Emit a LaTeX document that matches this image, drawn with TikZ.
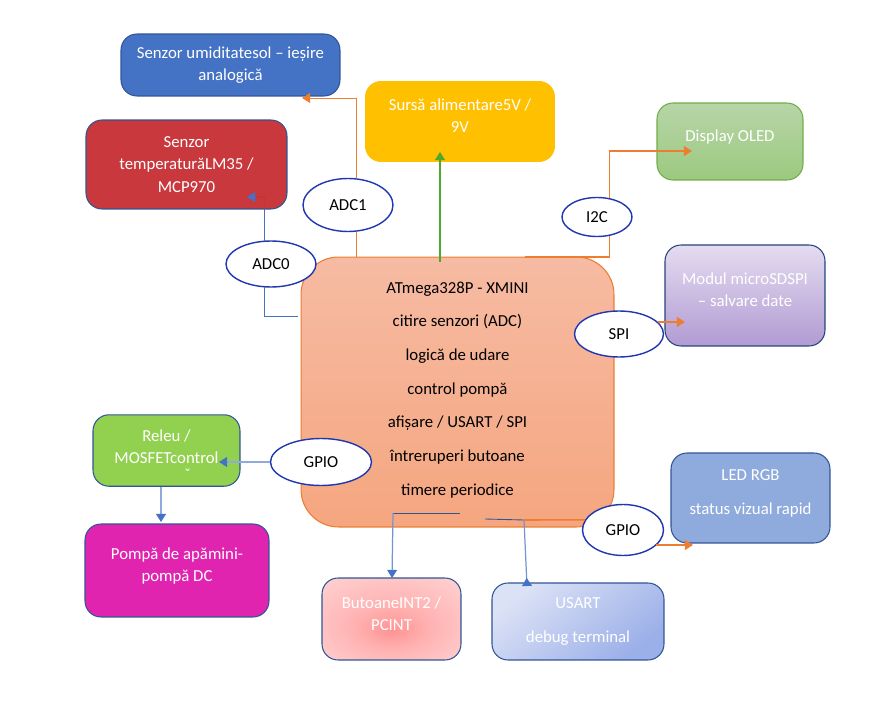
\documentclass[tikz,border=0pt]{standalone}
\usepackage{fontspec}
\setmainfont{Carlito}
\usetikzlibrary{arrows.meta, shapes.geometric}

\definecolor{darkblue}{HTML}{2F5597}
\definecolor{wireblue}{HTML}{4472C4}
\definecolor{paleblue}{HTML}{8FAADC}
\definecolor{wireorange}{HTML}{ED7D31}
\definecolor{wiregreen}{HTML}{4EA72E}
\definecolor{wirered}{HTML}{C0392B}

\pgfdeclareradialshading{btnglow}{\pgfpoint{0bp}{-7bp}}{rgb(0bp)=(1,0.58,0.58); rgb(14bp)=(1,0.70,0.70); rgb(32bp)=(1,0.80,0.80); rgb(50bp)=(1,0.84,0.84)}

\tikzset{
    box/.style={rectangle, rounded corners=3.2mm, draw=darkblue, line width=0.6pt,
                text=white, align=center, font=\fontsize{9.55}{12.6}\selectfont},
    lifted/.style={text depth=6.5pt},
    bus/.style={ellipse, draw=wireblue!60!blue!80!black, line width=0.8pt, fill=white,
                inner sep=0pt, font=\fontsize{9.55}{12.6}\selectfont},
    wire/.style={line width=0.5pt, draw=wireblue},
    thickwire/.style={line width=0.9pt, draw=wireorange},
    tip/.style={-{Triangle[length=4.6pt,width=5.6pt]}},
    bluetip/.style={-{Triangle[length=4.6pt,width=5.6pt,color=wireblue]}}
}

\begin{document}
\begin{tikzpicture}[x=0.02cm, y=-0.02cm]

    \useasboundingbox (0, 0) rectangle (883, 713);

    % Draw the central block
    \node[box, text depth=4pt, draw=wireorange, top color={rgb,255:red,246;green,187;blue,163},
          bottom color={rgb,255:red,245;green,166;blue,127},
          minimum width=6.26cm, minimum height=5.4cm, rounded corners=7.5mm, text=black,
          font=\fontsize{9.55}{19.2}\selectfont]
          at (457.5, 392)   (mcu)   {ATmega328P - XMINI\\citire senzori (ADC)\\logică de udare\\control pompă\\afișare / USART / SPI\\întreruperi butoane\\timere periodice};

    % Draw the modules
    \node[box, fill=wireblue, minimum width=4.38cm, minimum height=1.24cm]
          at (230.5, 65)    (soil)    {Senzor umiditatesol – ieșire\\analogică};
    \node[box, fill={rgb,255:red,200;green,56;blue,61}, minimum width=4.02cm, minimum height=1.78cm]
          at (186.5, 164.5) (temp)    {Senzor\\temperaturăLM35 /\\MCP970};
    \node[box, lifted, draw=none, fill={rgb,255:red,255;green,192;blue,0}, minimum width=3.8cm, minimum height=1.62cm]
          at (460, 121.5)   (supply)  {Sursă alimentare5V /\\9V};
    \node[box, lifted, draw={rgb,255:red,112;green,173;blue,71}, top color={rgb,255:red,183;green,213;blue,168},
          bottom color={rgb,255:red,156;green,201;blue,127}, minimum width=2.92cm, minimum height=1.54cm]
          at (730, 141.5)   (oled)    {Display OLED};
    \node[box, lifted, draw=darkblue!80!black, top color={rgb,255:red,228;green,220;blue,240},
          bottom color={rgb,255:red,177;green,155;blue,211}, minimum width=3.2cm, minimum height=2.02cm]
          at (745, 295.5)   (microsd) {Modul microSDSPI\\– salvare date};
    \node[box, text height=34pt, fill={rgb,255:red,146;green,208;blue,80}, minimum width=2.94cm, minimum height=1.38cm]
          at (166.5, 450.5) (relay)   {Releu /\\MOSFETcontrol\\[-3pt]\hspace*{24pt}ˇ};
    \node[box, lifted, fill={rgb,255:red,224;green,36;blue,176}, minimum width=3.68cm, minimum height=1.86cm]
          at (177, 570.5)   (pump)    {Pompă de apămini-\\pompă DC};
    \node[box, lifted, shading=btnglow, minimum width=2.78cm, minimum height=1.64cm]
          at (391.5, 619)   (buttons) {ButoaneINT2 /\\PCINT};
    \node[box, left color={rgb,255:red,220;green,226;blue,246}, right color={rgb,255:red,155;green,175;blue,232},
          shading angle=40, minimum width=3.44cm, minimum height=1.54cm,
          font=\fontsize{9.55}{19.2}\selectfont]
          at (578, 621.5)   (usart)   {USART\\debug terminal};
    \node[box, lifted, fill=paleblue, minimum width=3.18cm, minimum height=1.8cm,
          font=\fontsize{9.55}{19.2}\selectfont]
          at (750.5, 498)   (led)     {LED RGB\\status vizual rapid};

    % Draw the buses
    \node[bus, minimum width=1.8cm, minimum height=1.06cm]  at (348, 205)   (adc1)  {ADC1};
    \node[bus, minimum width=1.8cm, minimum height=0.92cm]  at (271, 264)   (adc0)  {ADC0};
    \node[bus, minimum width=1.4cm, minimum height=0.78cm]  at (597, 217)   (i2c)   {I2C};
    \node[bus, minimum width=1.78cm, minimum height=0.92cm] at (619, 334)   (spi)   {SPI};
    \node[bus, minimum width=2.02cm, minimum height=0.94cm] at (321, 462)   (gpioa) {GPIO};
    \node[bus, minimum width=1.62cm, minimum height=1.02cm] at (623, 530)   (gpiob) {GPIO};

    % Free ends of the connectors
    \coordinate (soilend)   at (302, 98);
    \coordinate (tempend)   at (247, 197);
    \coordinate (tempturn)  at (255, 197);
    \coordinate (mculeft)   at (298, 316);
    \coordinate (supplyend) at (440, 152);
    \coordinate (mcugreen)  at (440, 262);
    \coordinate (mcui2c)    at (525, 257);
    \coordinate (oledend)   at (692, 151);
    \coordinate (sdend)     at (685, 322);
    \coordinate (relayend)  at (219, 462);
    \coordinate (pumpend)   at (161, 522);
    \coordinate (btnstart)  at (460, 513);
    \coordinate (btnturn)   at (393, 513);
    \coordinate (btnend)    at (392, 578);
    \coordinate (usstart)   at (485, 519);
    \coordinate (usturn)    at (524, 520);
    \coordinate (usend)     at (527, 586);
    \coordinate (ledend)    at (693, 545);

    % Connect the blocks
    \draw[wire, draw=wireorange] (adc1.-73) -- (adc1.-73 |- mcu.north);
    \draw[wire, draw=wireorange, tip] (adc1.73) |- (soilend);
    \draw[wire] (adc0.105) -- (adc0.105 |- temp.south);
    \draw[wire] (adc0.-105) |- (mculeft);
    \draw[wire, line width=0.8pt, draw=wirered] (adc0.105 |- temp.south) |- (tempturn);
    \draw[wire, tip] (tempturn) -- (tempend);
    \draw[thickwire, draw=wiregreen, tip] (mcugreen) -- (supplyend);
    \draw[thickwire] (mcui2c) -| (i2c.-57);
    \draw[thickwire, tip] (i2c.57) |- (oledend);
    \draw[thickwire, tip] (spi.17 |- sdend) -- (sdend);
    \draw[thickwire, draw=paleblue, bluetip] (gpioa.west) -- (relayend);
    \draw[thickwire, draw=paleblue, bluetip] (relay.south -| pumpend) -- (pumpend);
    \draw[wire, draw=darkblue] (btnstart) -- (btnturn);
    \draw[wire, line width=0.7pt, draw=wireblue!75, bluetip] (btnturn) -- (btnend);
    \draw[wire, draw=darkblue] (usstart) -- (usturn);
    \draw[wire, line width=0.7pt, draw=wireblue!75, -{Triangle[reversed,length=4.6pt,width=5.6pt,color=wireblue]}] (usturn) -- (usend);
    \draw[thickwire] (usturn) -- (gpiob.165);
    \draw[thickwire, tip] (gpiob.-25 |- ledend) -- (ledend);

\end{tikzpicture}
\end{document}
